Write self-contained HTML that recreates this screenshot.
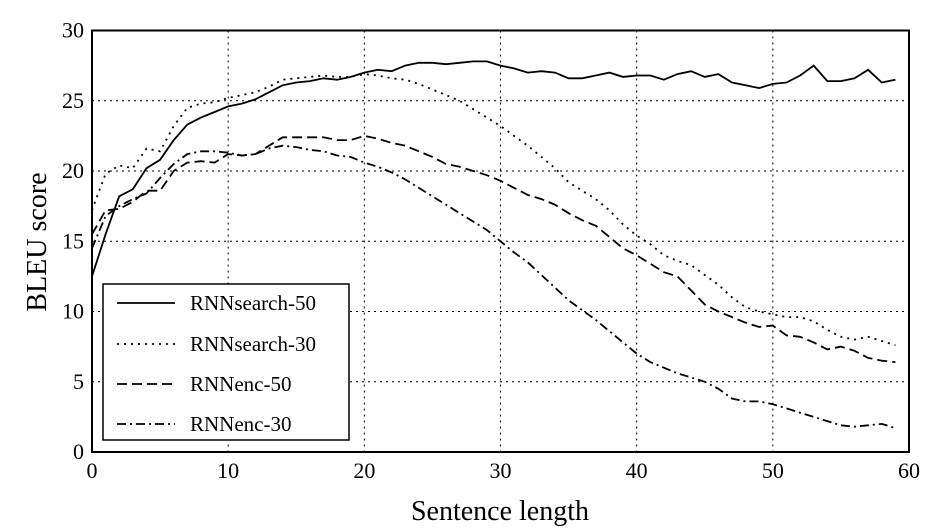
<!DOCTYPE html>
<html><head><meta charset="utf-8"><style>
html,body{margin:0;padding:0;background:#fff;}
svg{display:block;font-family:"Liberation Serif",serif;}
</style></head><body>
<svg id="s" width="930" height="531" viewBox="0 0 930 531" xmlns="http://www.w3.org/2000/svg">
<g id="grid" stroke="#000" stroke-width="1" stroke-dasharray="2,4"></g>
<g id="series" fill="none" stroke="#000" stroke-width="1.8"></g>
<rect x="92" y="30.5" width="817" height="421.5" fill="none" stroke="#000" stroke-width="2"/>
<g id="ticks" font-size="22" fill="#000"></g>
<text x="500" y="520" font-size="28" text-anchor="middle">Sentence length</text>
<text transform="translate(46,242) rotate(-90)" font-size="28" text-anchor="middle">BLEU score</text>
<rect x="103" y="284" width="246" height="156" fill="#fff" stroke="#000" stroke-width="1.5"/>
<g stroke="#000" stroke-width="1.8">
<line x1="117" y1="303" x2="175" y2="303"/>
<line x1="117" y1="344" x2="175" y2="344" stroke-dasharray="2,5"/>
<line x1="117" y1="384" x2="175" y2="384" stroke-dasharray="10,5"/>
<line x1="117" y1="424" x2="175" y2="424" stroke-dasharray="9,4,2,4"/>
</g>
<g font-size="21" fill="#000">
<text x="190" y="310">RNNsearch-50</text>
<text x="190" y="351">RNNsearch-30</text>
<text x="190" y="391">RNNenc-50</text>
<text x="190" y="431">RNNenc-30</text>
</g>
</svg>
<script>
var X=function(v){return 92+v*817/60},Y=function(v){return 452-v*421.5/30};
var ns="http://www.w3.org/2000/svg";
function el(p,n,a,t){var e=document.createElementNS(ns,n);for(var k in a)e.setAttribute(k,a[k]);if(t!=null)e.textContent=t;document.getElementById(p).appendChild(e);}
for(var i=1;i<6;i++)el("grid","line",{x1:X(i*10),x2:X(i*10),y1:30.5,y2:452});
for(var j=1;j<6;j++)el("grid","line",{x1:92,x2:909,y1:Y(j*5),y2:Y(j*5)});
for(var i=0;i<=6;i++)el("ticks","text",{x:X(i*10),y:478,"text-anchor":"middle"},i*10);
for(var j=0;j<=6;j++)el("ticks","text",{x:84,y:Y(j*5)+7,"text-anchor":"end"},j*5);
var D=[
[null,[12.5,15.5,18.2,18.7,20.2,20.8,22.2,23.3,23.8,24.2,24.6,24.8,25.1,25.6,26.1,26.3,26.4,26.6,26.5,26.7,27.0,27.2,27.1,27.5,27.7,27.7,27.6,27.7,27.8,27.8,27.5,27.3,27.0,27.1,27.0,26.6,26.6,26.8,27.0,26.7,26.8,26.8,26.5,26.9,27.1,26.7,26.9,26.3,26.1,25.9,26.2,26.3,26.8,27.5,26.4,26.4,26.6,27.2,26.3,26.5]],
["2,5",[17.2,19.8,20.4,20.2,21.6,21.4,23.2,24.5,24.8,24.9,25.2,25.4,25.6,26.0,26.5,26.6,26.7,26.8,26.7,26.7,26.9,26.8,26.6,26.5,26.2,25.8,25.4,25,24.4,23.8,23.2,22.5,21.8,21,20.2,19.2,18.6,18,17.2,16.2,15.4,14.8,14,13.6,13.3,12.6,11.9,11,10.3,10,9.8,9.6,9.6,9.3,8.7,8.2,8,8.2,7.9,7.6]],
["10,5",[15.5,17.2,17.3,17.8,18.6,18.6,20,20.6,20.7,20.6,21.2,21.1,21.2,21.8,22.4,22.4,22.4,22.4,22.2,22.2,22.5,22.3,22,21.8,21.4,21,20.5,20.3,20,19.7,19.3,18.8,18.3,18,17.6,17,16.5,16.1,15.3,14.5,14,13.4,12.8,12.5,11.5,10.5,10,9.6,9.2,8.9,9,8.3,8.2,7.8,7.3,7.5,7.2,6.7,6.5,6.4]],
["9,4,2,4",[14.5,16.8,17.5,18,18.4,19.5,20.5,21.2,21.4,21.4,21.3,21.1,21.2,21.6,21.8,21.7,21.5,21.4,21.1,21,20.6,20.3,19.9,19.4,18.8,18.2,17.6,17,16.4,15.8,15,14.2,13.5,12.6,11.7,10.8,10.1,9.4,8.6,7.8,7,6.4,6,5.6,5.3,5,4.5,3.8,3.6,3.6,3.4,3.1,2.8,2.5,2.2,1.9,1.8,1.9,2,1.7]]];
D.forEach(function(d){var p=d[1].map(function(v,i){return X(i).toFixed(1)+","+Y(v).toFixed(1)}).join(" ");var a={points:p};if(d[0])a["stroke-dasharray"]=d[0];el("series","polyline",a);});
</script>
</body></html>
